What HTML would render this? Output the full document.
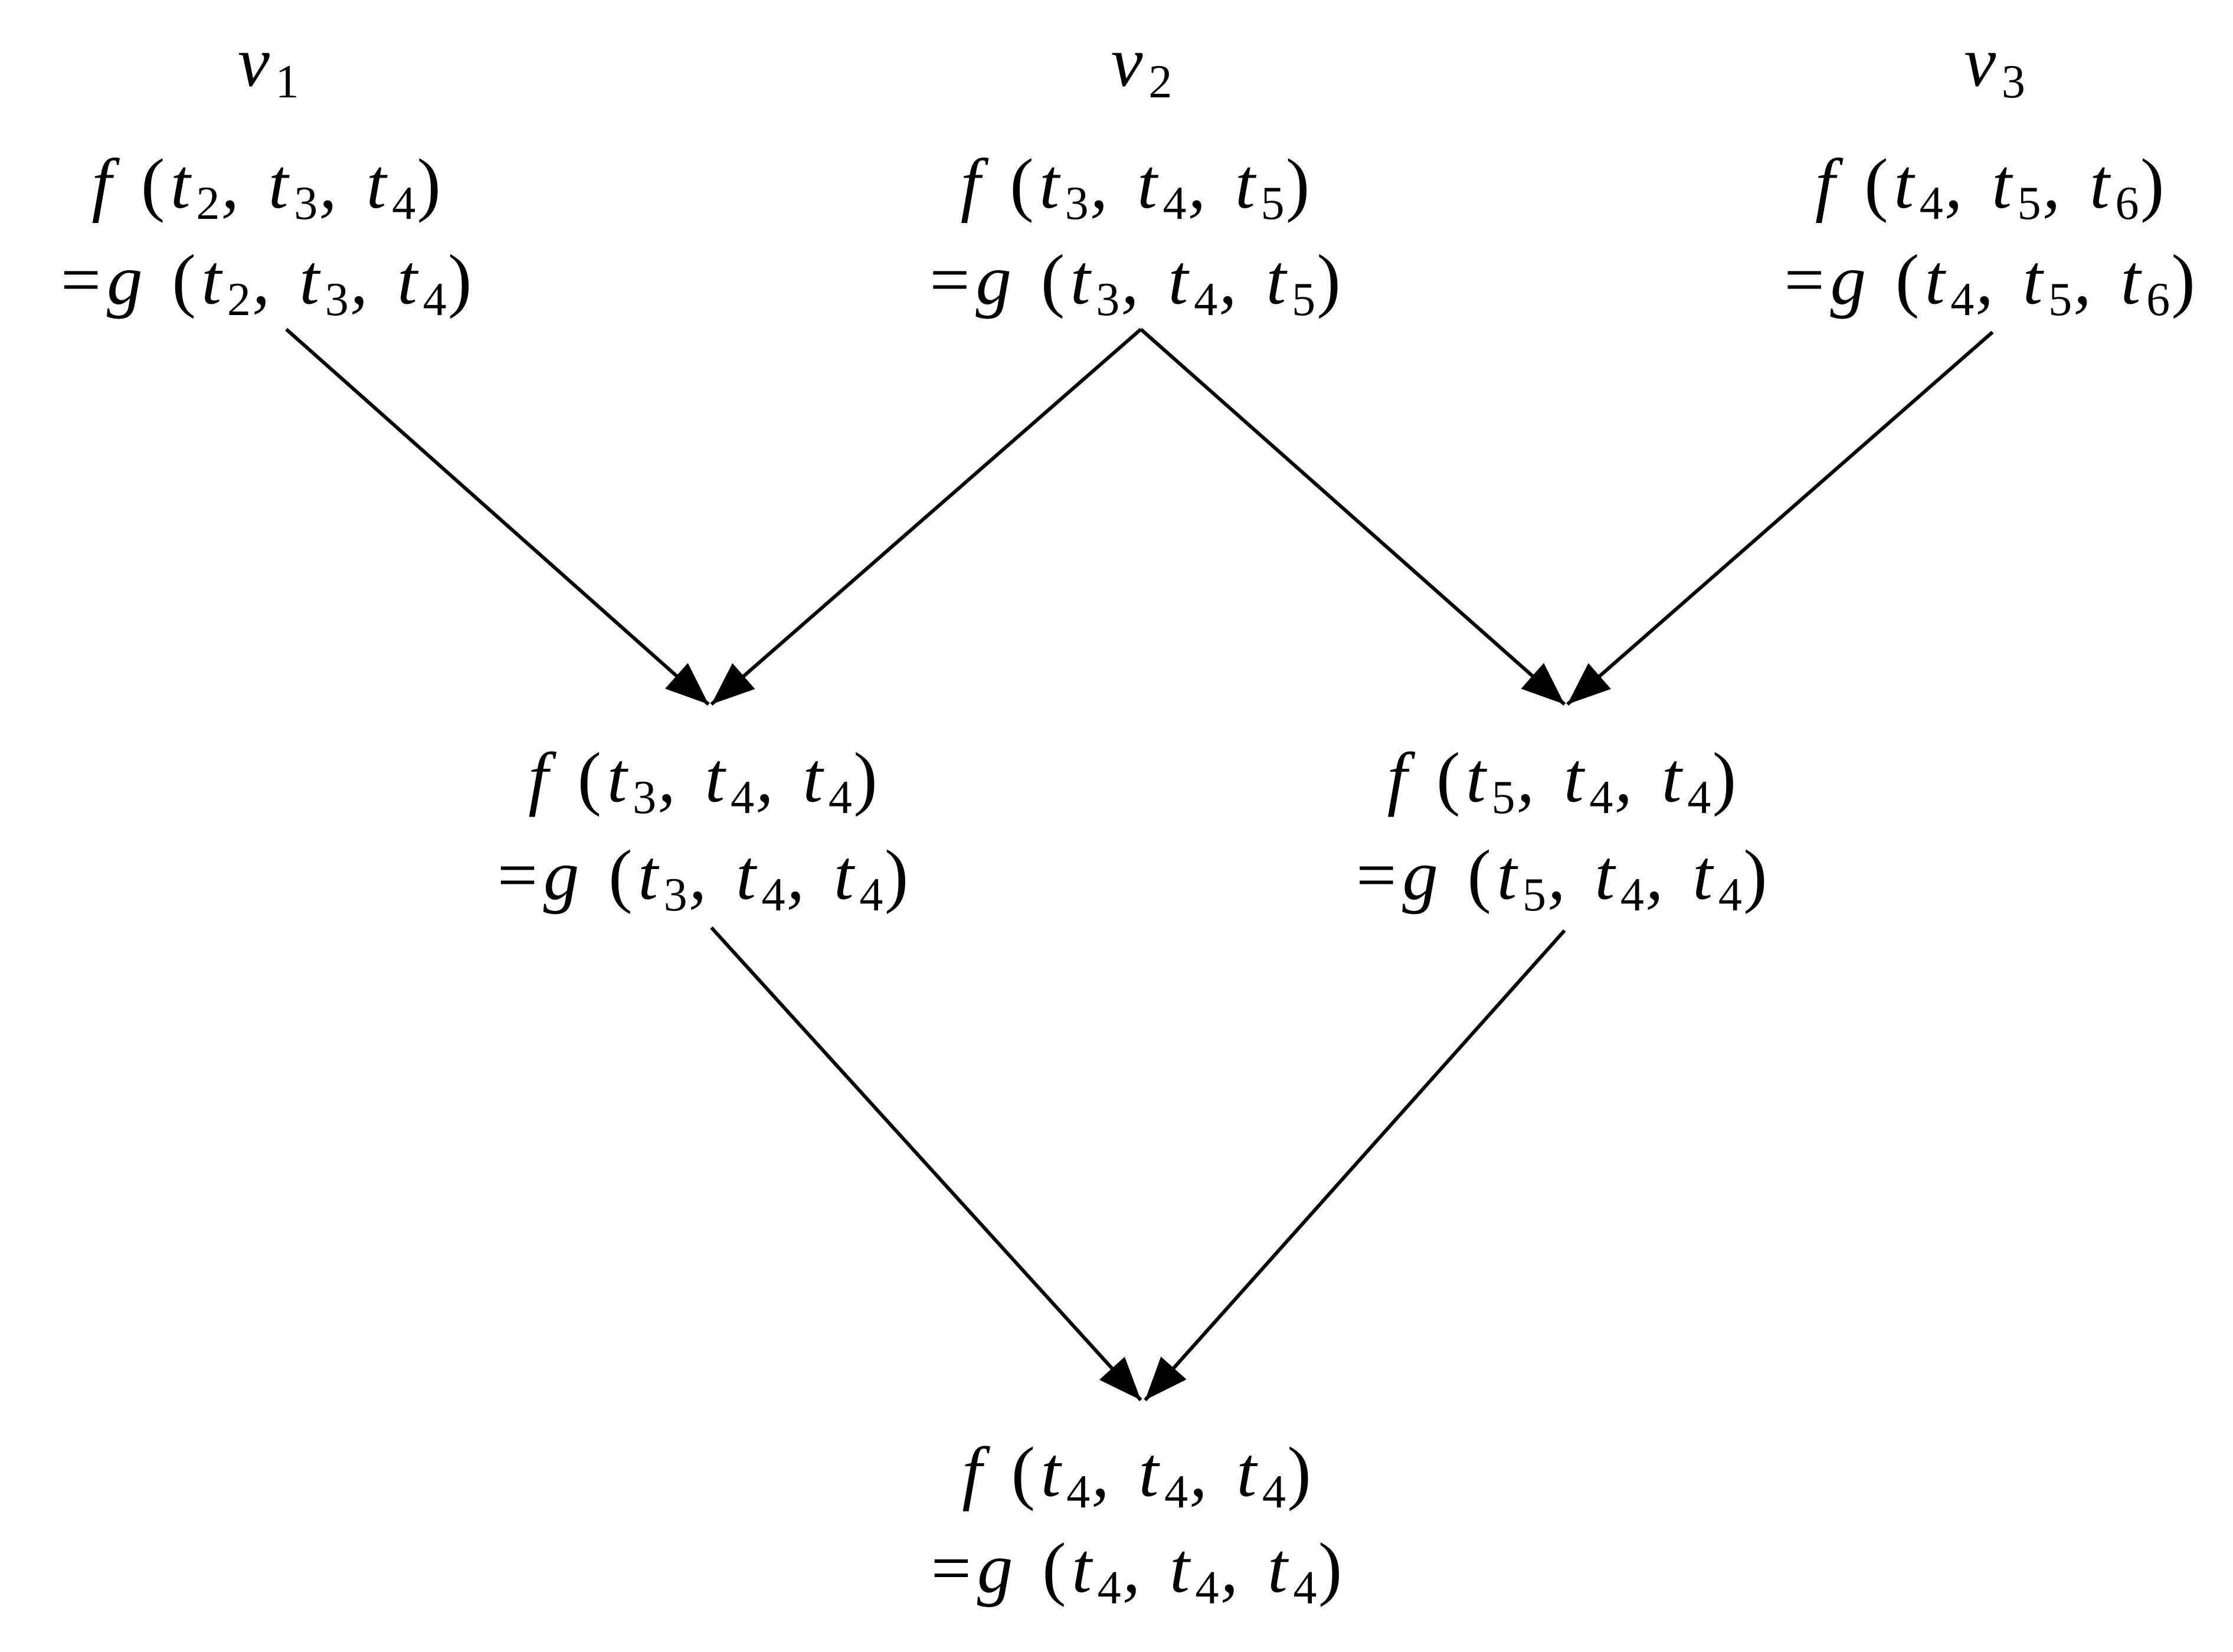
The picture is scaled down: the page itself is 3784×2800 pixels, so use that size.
<!DOCTYPE html>
<html><head><meta charset="utf-8"><style>
html,body{margin:0;padding:0;background:#fff;}
svg{display:block;}
text{font-family:"Liberation Serif","DejaVu Serif",serif;font-style:italic;font-size:50px;fill:#000;letter-spacing:4px;}
.s{font-size:33px;font-style:normal;letter-spacing:1px;}
.n{font-style:normal;}
</style></head><body>
<svg width="3784" height="2800" viewBox="0 0 1560 1154" preserveAspectRatio="none" xmlns="http://www.w3.org/2000/svg">
<defs>
<marker id="a" viewBox="0 0 30 24" refX="30" refY="12" markerWidth="30" markerHeight="24" markerUnits="userSpaceOnUse" orient="auto">
<path d="M0,0 L30,12 L0,24 Z" fill="#000"/>
</marker>
</defs>
<g stroke="#000" stroke-width="2.5" fill="none" marker-end="url(#a)">
<line x1="200" y1="230" x2="495" y2="492"/>
<line x1="797" y1="230" x2="497" y2="492"/>
<line x1="797" y1="230" x2="1093" y2="492"/>
<line x1="1392" y1="232" x2="1095" y2="492"/>
<line x1="497" y1="648" x2="797" y2="978"/>
<line x1="1093" y1="650" x2="800" y2="978"/>
</g>
<g text-anchor="middle">
<text x="188" y="60">v<tspan class="s" dy="8">1</tspan></text>
<text x="798" y="60">v<tspan class="s" dy="8">2</tspan></text>
<text x="1394" y="60">v<tspan class="s" dy="8">3</tspan></text>

<text x="188" y="145">f <tspan class="n">(</tspan>t<tspan class="s" dy="8">2</tspan><tspan dy="-8">, t</tspan><tspan class="s" dy="8">3</tspan><tspan dy="-8">, t</tspan><tspan class="s" dy="8">4</tspan><tspan class="n" dy="-8">)</tspan></text>
<text x="188" y="212"><tspan class="n">=</tspan>g <tspan class="n">(</tspan>t<tspan class="s" dy="8">2</tspan><tspan dy="-8">, t</tspan><tspan class="s" dy="8">3</tspan><tspan dy="-8">, t</tspan><tspan class="s" dy="8">4</tspan><tspan class="n" dy="-8">)</tspan></text>

<text x="795" y="145">f <tspan class="n">(</tspan>t<tspan class="s" dy="8">3</tspan><tspan dy="-8">, t</tspan><tspan class="s" dy="8">4</tspan><tspan dy="-8">, t</tspan><tspan class="s" dy="8">5</tspan><tspan class="n" dy="-8">)</tspan></text>
<text x="795" y="212"><tspan class="n">=</tspan>g <tspan class="n">(</tspan>t<tspan class="s" dy="8">3</tspan><tspan dy="-8">, t</tspan><tspan class="s" dy="8">4</tspan><tspan dy="-8">, t</tspan><tspan class="s" dy="8">5</tspan><tspan class="n" dy="-8">)</tspan></text>

<text x="1392" y="145">f <tspan class="n">(</tspan>t<tspan class="s" dy="8">4</tspan><tspan dy="-8">, t</tspan><tspan class="s" dy="8">5</tspan><tspan dy="-8">, t</tspan><tspan class="s" dy="8">6</tspan><tspan class="n" dy="-8">)</tspan></text>
<text x="1392" y="212"><tspan class="n">=</tspan>g <tspan class="n">(</tspan>t<tspan class="s" dy="8">4</tspan><tspan dy="-8">, t</tspan><tspan class="s" dy="8">5</tspan><tspan dy="-8">, t</tspan><tspan class="s" dy="8">6</tspan><tspan class="n" dy="-8">)</tspan></text>

<text x="493" y="560">f <tspan class="n">(</tspan>t<tspan class="s" dy="8">3</tspan><tspan dy="-8">, t</tspan><tspan class="s" dy="8">4</tspan><tspan dy="-8">, t</tspan><tspan class="s" dy="8">4</tspan><tspan class="n" dy="-8">)</tspan></text>
<text x="493" y="628"><tspan class="n">=</tspan>g <tspan class="n">(</tspan>t<tspan class="s" dy="8">3</tspan><tspan dy="-8">, t</tspan><tspan class="s" dy="8">4</tspan><tspan dy="-8">, t</tspan><tspan class="s" dy="8">4</tspan><tspan class="n" dy="-8">)</tspan></text>

<text x="1093" y="560">f <tspan class="n">(</tspan>t<tspan class="s" dy="8">5</tspan><tspan dy="-8">, t</tspan><tspan class="s" dy="8">4</tspan><tspan dy="-8">, t</tspan><tspan class="s" dy="8">4</tspan><tspan class="n" dy="-8">)</tspan></text>
<text x="1093" y="628"><tspan class="n">=</tspan>g <tspan class="n">(</tspan>t<tspan class="s" dy="8">5</tspan><tspan dy="-8">, t</tspan><tspan class="s" dy="8">4</tspan><tspan dy="-8">, t</tspan><tspan class="s" dy="8">4</tspan><tspan class="n" dy="-8">)</tspan></text>

<text x="796" y="1045">f <tspan class="n">(</tspan>t<tspan class="s" dy="8">4</tspan><tspan dy="-8">, t</tspan><tspan class="s" dy="8">4</tspan><tspan dy="-8">, t</tspan><tspan class="s" dy="8">4</tspan><tspan class="n" dy="-8">)</tspan></text>
<text x="796" y="1112"><tspan class="n">=</tspan>g <tspan class="n">(</tspan>t<tspan class="s" dy="8">4</tspan><tspan dy="-8">, t</tspan><tspan class="s" dy="8">4</tspan><tspan dy="-8">, t</tspan><tspan class="s" dy="8">4</tspan><tspan class="n" dy="-8">)</tspan></text>
</g>
</svg>
</body></html>
